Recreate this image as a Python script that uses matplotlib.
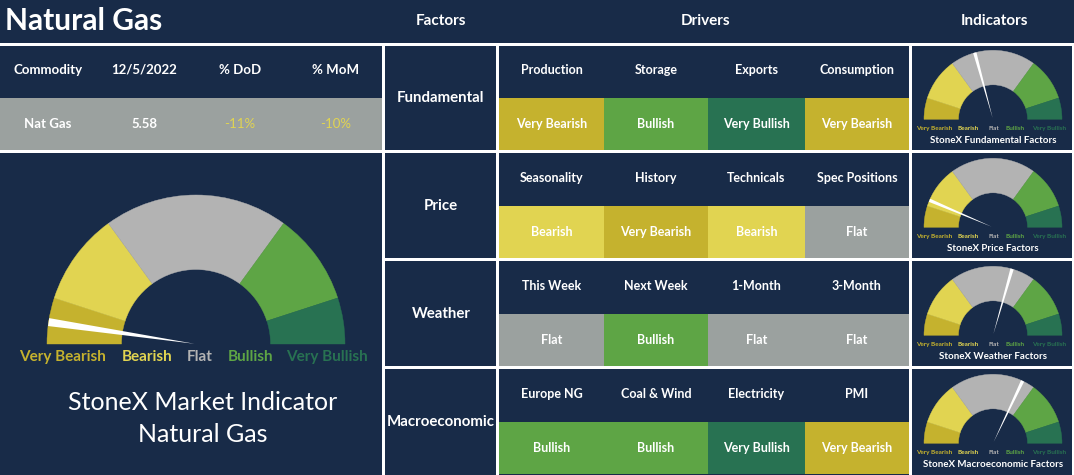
import numpy as np
import matplotlib
matplotlib.use("Agg")
import matplotlib.pyplot as plt
from matplotlib.patches import Rectangle, Wedge, Polygon

plt.rcParams['font.family'] = ['Lato', 'DejaVu Sans']

# ---------------- data ----------------
title = "Natural Gas"
section_headers = ["Factors", "Drivers", "Indicators"]
commodity_headers = ["Commodity", "12/5/2022", "% DoD", "% MoM"]
commodity_values = ["Nat Gas", "5.58", "-11%", "-10%"]
factors = ["Fundamental", "Price", "Weather", "Macroeconomic"]
drivers = [
    ["Production", "Storage", "Exports", "Consumption"],
    ["Seasonality", "History", "Technicals", "Spec Positions"],
    ["This Week", "Next Week", "1-Month", "3-Month"],
    ["Europe NG", "Coal & Wind", "Electricity", "PMI"],
]
signals = [
    ["Very Bearish", "Bullish", "Very Bullish", "Very Bearish"],
    ["Bearish", "Very Bearish", "Bearish", "Flat"],
    ["Flat", "Bullish", "Flat", "Flat"],
    ["Bullish", "Bullish", "Very Bullish", "Very Bearish"],
]
gauge_levels = ["Very Bearish", "Bearish", "Flat", "Bullish", "Very Bullish"]
level_bounds = [0, 10, 30, 70, 90, 100]          # gauge scale 0..100
overall_score = 4.7
factor_scores = [41.5, 12.8, 58.9, 64.1]
indicator_titles = ["StoneX Fundamental Factors", "StoneX Price Factors",
                    "StoneX Weather Factors", "StoneX Macroeconomic Factors"]
footer_lines = ["StoneX Market Indicator", "Natural Gas"]

# ---------------- styles ----------------
NAVY = "#182B48"
WHITE = "#FFFFFF"
ROWGREY = "#9BA19F"
level_colors = {
    "Very Bearish": "#C5B22E",
    "Bearish": "#E1D451",
    "Flat": "#B3B3B3",
    "Bullish": "#5EA545",
    "Very Bullish": "#287252",
}
cell_colors = dict(level_colors)
cell_colors["Flat"] = ROWGREY
DOD_COLOR = "#E1D451"

W, H = 1074, 475
fig = plt.figure(figsize=(W / 100, H / 100), dpi=100)
fig.patch.set_facecolor(NAVY)
ax = fig.add_axes([0, 0, 1, 1])
ax.set_xlim(0, W)
ax.set_ylim(H, 0)
ax.axis("off")
ax.set_facecolor(NAVY)


def rect(x0, y0, x1, y1, color, z=1):
    ax.add_patch(Rectangle((x0, y0), x1 - x0, y1 - y0, fc=color, ec="none", zorder=z))


def txt(x, y, s, size, color=WHITE, weight="bold", **kw):
    ax.text(x, y, s, fontsize=size, color=color, fontweight=weight,
            ha=kw.pop("ha", "center"), va=kw.pop("va", "center"), zorder=5, **kw)


def gauge(cx, cy, r_out, score, needle_w, label_xs, label_dy, label_size):
    r_in = r_out * 0.5
    for i, lev in enumerate(gauge_levels):
        a1 = 180 * (1 - level_bounds[i] / 100)
        a2 = 180 * (1 - level_bounds[i + 1] / 100)
        ax.add_patch(Wedge((cx, cy), r_out, -a1, -a2, width=r_out - r_in,
                           fc=level_colors[lev], ec=level_colors[lev], lw=0.3, zorder=2))
    th = np.deg2rad(180 * (1 - score / 100))
    L = r_out
    ex, ey = cx + L * np.cos(th), cy - L * np.sin(th)
    px, py = np.sin(th), np.cos(th)
    ax.add_patch(Polygon([(cx + 1.5 * np.cos(th), cy - 1.5 * np.sin(th)),
                          (ex + px * needle_w / 2, ey + py * needle_w / 2),
                          (ex - px * needle_w / 2, ey - py * needle_w / 2)],
                         closed=True, fc=WHITE, ec="none", zorder=3))
    for lev, lx in zip(gauge_levels, label_xs):
        txt(lx, cy + label_dy, lev, label_size, color=level_colors[lev])


# ---------------- grid lines ----------------
rect(0, 42.5, W, 45.5, WHITE, 3)
rect(0, 149.5, W, 152.5, WHITE, 3)
rect(383, 257.5, W, 260.5, WHITE, 3)
rect(383, 365.5, W, 368.5, WHITE, 3)
rect(382, 42.5, 385, H, WHITE, 3)
rect(496, 42.5, 499, H, WHITE, 3)
rect(909, 42.5, 912, H, WHITE, 3)
rect(1071.5, 42.5, W, H, WHITE, 3)

# ---------------- header ----------------
txt(5, 21, title, 21.5, ha="left")
for s, x in zip(section_headers, [441, 706, 994]):
    txt(x, 21, s, 11)

# ---------------- commodity table ----------------
col_x = [48, 144, 240, 336]
rect(0, 97.5, 382, 149.5, ROWGREY, 1)
for i, (hd, vl) in enumerate(zip(commodity_headers, commodity_values)):
    txt(col_x[i], 70, hd, 9.5)
    c = DOD_COLOR if i >= 2 else WHITE
    txt(col_x[i], 124, vl, 9.5, color=c, weight="bold" if i < 2 else "normal")

# ---------------- big gauge ----------------
gauge(196, 344, 149, overall_score, 8, [63, 147, 200, 251, 327], 13, 11)
txt(203, 403, footer_lines[0], 18, weight="normal")
txt(203, 435, footer_lines[1], 18, weight="normal")

# ---------------- factors / drivers ----------------
cell_x = [499, 604, 708, 805, 909]
for r in range(4):
    top = 45.5 + 108 * r
    mid = top + 52
    bot = top + 104
    txt(441, mid, factors[r], 10.8)
    for c in range(4):
        cx = (cell_x[c] + cell_x[c + 1]) / 2
        rect(cell_x[c], mid, cell_x[c + 1], bot, cell_colors[signals[r][c]], 1)
        txt(cx, top + 25, drivers[r][c], 9)
        txt(cx, mid + 27, signals[r][c], 9)
    # indicator gauge
    gcy = 119.3 + 108 * r
    gauge(993, gcy, 69, factor_scores[r], 3.4, [934, 968, 994, 1015, 1049], 9.5, 4.6)
    txt(993, gcy + 21, indicator_titles[r], 7)

fig.savefig("out.png", dpi=100, facecolor=NAVY)
